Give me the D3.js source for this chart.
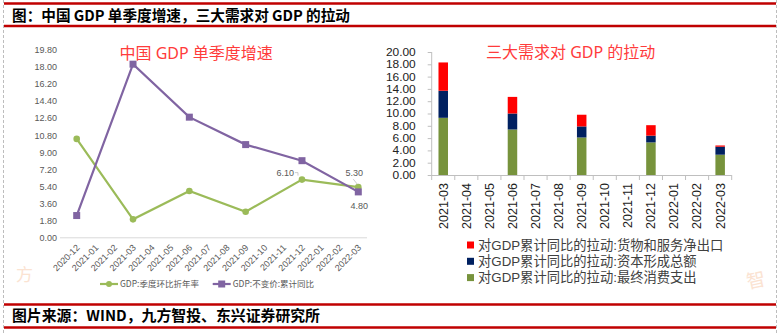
<!DOCTYPE html>
<html><head><meta charset="utf-8">
<script src="https://cdn.jsdelivr.net/npm/d3@7"></script>
<style>
html,body{margin:0;padding:0;background:#fff;}
svg{display:block;}
text{font-family:"Noto Sans","Noto Sans CJK SC",sans-serif;}
</style></head>
<body>
<svg id="c" width="781" height="334"></svg>
<script>
// ---------- data ----------
const lineCategories = ["2020-12","2021-01","2021-02","2021-03","2021-04","2021-05","2021-06","2021-07","2021-08","2021-09","2021-10","2021-11","2021-12","2022-01","2022-02","2022-03"];
const qoqAnnualized = [10.4,null,null,1.9,null,null,4.9,null,null,2.7,null,null,6.1,null,null,5.3]; // GDP:季度环比折年率
const cumulativeYoY = [2.3,null,null,18.3,null,null,12.7,null,null,9.8,null,null,8.1,null,null,4.8]; // GDP:不变价:累计同比
const lineYTicks = [0,1.8,3.6,5.4,7.2,9.0,10.8,12.6,14.4,16.2,18.0,19.8];

const barCategories = ["2021-03","2021-04","2021-05","2021-06","2021-07","2021-08","2021-09","2021-10","2021-11","2021-12","2022-01","2022-02","2022-03"];
const consumption = [9.3,null,null,7.4,null,null,6.1,null,null,5.3,null,null,3.3];   // 最终消费支出
const capital     = [4.4,null,null,2.6,null,null,1.8,null,null,1.1,null,null,1.3];   // 资本形成总额
const netExports  = [4.6,null,null,2.7,null,null,1.9,null,null,1.7,null,null,0.2];   // 货物和服务净出口
const barYTicks = [0,2,4,6,8,10,12,14,16,18,20];

const svg = d3.select("#c");

// ---------- frame ----------
svg.append("line").attr("x1",3.5).attr("x2",3.5).attr("y1",0).attr("y2",334)
  .attr("stroke","#bdbdbd").attr("stroke-dasharray","3,2");
svg.append("line").attr("x1",776.5).attr("x2",776.5).attr("y1",0).attr("y2",334)
  .attr("stroke","#bdbdbd").attr("stroke-dasharray","3,2");
[[3.5,2.5],[26,2.5],[304.5,2.5],[327.5,2.5]].forEach(([y,w])=>{
  svg.append("rect").attr("x",4).attr("y",y-w/2).attr("width",772).attr("height",w).attr("fill","#c00000");
});
svg.append("text").attr("x",12).attr("y",21).attr("font-size",15).attr("font-weight","bold")
  .attr("fill","#000").attr("textLength",338).attr("lengthAdjust","spacingAndGlyphs")
  .style("font-family","'Noto Sans CJK SC',sans-serif")
  .text("图：中国 GDP 单季度增速，三大需求对 GDP 的拉动");
svg.append("text").attr("x",12).attr("y",321).attr("font-size",15).attr("font-weight","bold")
  .attr("fill","#000").attr("textLength",308).attr("lengthAdjust","spacingAndGlyphs")
  .style("font-family","'Noto Sans CJK SC',sans-serif")
  .text("图片来源：WIND，九方智投、东兴证券研究所");

// watermarks
svg.append("text").attr("x",16).attr("y",281).attr("font-size",17).attr("fill","#fbe3d2")
  .style("font-family","'Noto Sans CJK SC',sans-serif").text("方");
svg.append("text").attr("x",746).attr("y",286).attr("font-size",19).attr("fill","#fbe3d2")
  .attr("transform","rotate(-12,760,278)")
  .style("font-family","'Noto Sans CJK SC',sans-serif").text("智");

// ---------- left chart ----------
const xL = d3.scalePoint().domain(lineCategories).range([76.7,358.3]);
const yL = d3.scaleLinear().domain([0,19.8]).range([237.3,50]);

svg.append("text").attr("x",119.5).attr("y",58.5).attr("font-size",16).attr("fill","#ff3b3b")
  .text("中国 GDP 单季度增速");

const gyL = svg.append("g").attr("transform","translate(60,0)")
  .call(d3.axisLeft(yL).tickValues(lineYTicks).tickFormat(d3.format(".2f")).tickSize(0).tickPadding(3));
gyL.select(".domain").remove();
gyL.selectAll("text").attr("font-size",9).attr("fill","#595959").style("font-family","'Liberation Sans',sans-serif");

const gxL = svg.append("g").attr("transform","translate(0,237.3)")
  .call(d3.axisBottom(xL).tickSize(0).tickFormat(d=>d));
gxL.select(".domain").attr("d","M60,0.5H367").attr("stroke","#d9d9d9");
gxL.selectAll("text").attr("font-size",9).attr("fill","#595959")
  .style("font-family","'Liberation Sans',sans-serif")
  .attr("text-anchor","end").attr("dy",null).attr("y",0)
  .attr("transform","translate(3,11) rotate(-45)");

const lineGen = d3.line().defined(d=>d.v!=null).x(d=>xL(d.c)).y(d=>yL(d.v));
const greenPts = lineCategories.map((c,i)=>({c,v:qoqAnnualized[i]})).filter(d=>d.v!=null);
const purplePts = lineCategories.map((c,i)=>({c,v:cumulativeYoY[i]})).filter(d=>d.v!=null);

svg.append("path").datum(greenPts).attr("d",lineGen).attr("fill","none").attr("stroke","#9bbb59").attr("stroke-width",2.2);
svg.append("path").datum(purplePts).attr("d",lineGen).attr("fill","none").attr("stroke","#8064a2").attr("stroke-width",2.2);
svg.selectAll(".gpt").data(greenPts).enter().append("circle")
  .attr("cx",d=>xL(d.c)).attr("cy",d=>yL(d.v)).attr("r",3.3).attr("fill","#9bbb59");
svg.selectAll(".ppt").data(purplePts).enter().append("rect")
  .attr("x",d=>xL(d.c)-3.5).attr("y",d=>yL(d.v)-3.5).attr("width",7).attr("height",7).attr("fill","#8064a2");

// data labels
const g61 = greenPts.find(d=>d.c==="2021-12");
const g53 = greenPts.find(d=>d.c==="2022-03");
const p48 = purplePts.find(d=>d.c==="2022-03");
svg.append("text").attr("x",xL(g61.c)-8).attr("y",yL(g61.v)-3.5).attr("text-anchor","end")
  .attr("font-size",9).attr("fill","#595959").style("font-family","'Liberation Sans',sans-serif").text("6.10");
svg.append("path").attr("d",`M${xL(g61.c)-7},${yL(g61.v)-7}h3v3`).attr("fill","none").attr("stroke","#bfbfbf").attr("stroke-width",0.8);
svg.append("text").attr("x",xL(g53.c)-4).attr("y",yL(g53.v)-11).attr("text-anchor","middle")
  .attr("font-size",9).attr("fill","#595959").style("font-family","'Liberation Sans',sans-serif").text("5.30");
svg.append("path").attr("d",`M${xL(g53.c)-5},${yL(g53.v)-8}L${xL(g53.c)-1},${yL(g53.v)-3}`).attr("fill","none").attr("stroke","#bfbfbf").attr("stroke-width",0.8);
svg.append("text").attr("x",xL(p48.c)+1).attr("y",yL(p48.v)+17).attr("text-anchor","middle")
  .attr("font-size",9).attr("fill","#595959").style("font-family","'Liberation Sans',sans-serif").text("4.80");

// left legend
const legL = [
  {x:100, color:"#9bbb59", shape:"circle", label:"GDP:季度环比折年率"},
  {x:212.7, color:"#8064a2", shape:"rect", label:"GDP:不变价:累计同比"}
];
legL.forEach(l=>{
  const g = svg.append("g").attr("transform",`translate(${l.x},284)`);
  g.append("line").attr("x1",0).attr("x2",18).attr("stroke",l.color).attr("stroke-width",2.2);
  if(l.shape==="circle") g.append("circle").attr("cx",9).attr("r",3).attr("fill",l.color);
  else g.append("rect").attr("x",5.5).attr("y",-3.5).attr("width",7).attr("height",7).attr("fill",l.color);
  g.append("text").attr("x",20).attr("y",3.2).attr("font-size",8.5).attr("fill","#595959")
    .style("font-family","'Noto Sans CJK SC',sans-serif").text(l.label);
});

// ---------- right chart ----------
const xR = d3.scaleBand().domain(barCategories).range([431.7,731.7]);
const yR = d3.scaleLinear().domain([0,20]).range([175,52]);

svg.append("text").attr("x",486).attr("y",58).attr("font-size",16).attr("fill","#ff3b3b")
  .text("三大需求对 GDP 的拉动");

const gyR = svg.append("g").attr("transform","translate(431.7,0)")
  .call(d3.axisLeft(yR).tickValues(barYTicks).tickFormat(d3.format(".2f")).tickSize(4).tickPadding(12));
gyR.select(".domain").attr("stroke","#bfbfbf").attr("d","M0,52V175");
gyR.selectAll("line").attr("stroke","#bfbfbf");
gyR.selectAll("text").attr("font-size",10.6).attr("fill","#222")
  .style("font-family","'Liberation Sans',sans-serif")
  .attr("textLength",function(){ const s=this.textContent; return s.replace(/\./g,"").length*6.6+3.4; })
  .attr("lengthAdjust","spacingAndGlyphs");

const gxR = svg.append("g").attr("transform","translate(0,175)")
  .call(d3.axisBottom(xR).tickSize(0).tickFormat(d=>d));
gxR.select(".domain").attr("d","M431.7,0.5H731.7").attr("stroke","#bfbfbf");
gxR.selectAll("text").attr("font-size",12.5).attr("fill","#222")
  .style("font-family","'Liberation Sans',sans-serif")
  .attr("text-anchor","end").attr("dy","0.35em").attr("y",0).attr("x",0)
  .attr("transform","translate(0,8) rotate(-90)");
// boundary ticks
gxR.selectAll(".bt").data(d3.range(barCategories.length+1)).enter().append("line")
  .attr("x1",i=>431.7+i*xR.step()).attr("x2",i=>431.7+i*xR.step())
  .attr("y1",0).attr("y2",5).attr("stroke","#bfbfbf");

const stackData = barCategories.map((c,i)=>({c,cons:consumption[i]||0,cap:capital[i]||0,net:netExports[i]||0}));
const stack = d3.stack().keys(["cons","cap","net"])(stackData);
const colors = {cons:"#77933c",cap:"#002060",net:"#ff0000"};
const bw = 9.5;
stack.forEach(layer=>{
  svg.selectAll(".b"+layer.key).data(layer.filter(d=>d[1]-d[0]>0)).enter().append("rect")
    .attr("x",d=>xR(d.data.c)+xR.bandwidth()/2-bw/2)
    .attr("y",d=>yR(d[1])).attr("width",bw).attr("height",d=>yR(d[0])-yR(d[1]))
    .attr("fill",colors[layer.key]);
});

const legR = [
  {color:"#ff0000", label:"对GDP累计同比的拉动:货物和服务净出口"},
  {color:"#002060", label:"对GDP累计同比的拉动:资本形成总额"},
  {color:"#77933c", label:"对GDP累计同比的拉动:最终消费支出"}
];
legR.forEach((l,i)=>{
  const y = 245+i*16.3;
  svg.append("rect").attr("x",467).attr("y",y-3.5).attr("width",7).attr("height",7).attr("fill",l.color);
  svg.append("text").attr("x",478).attr("y",y+4.5).attr("font-size",13.3).attr("fill","#404040")
    .style("font-family","'Liberation Sans','Noto Sans CJK SC',sans-serif").text(l.label);
});
</script>
</body></html>
